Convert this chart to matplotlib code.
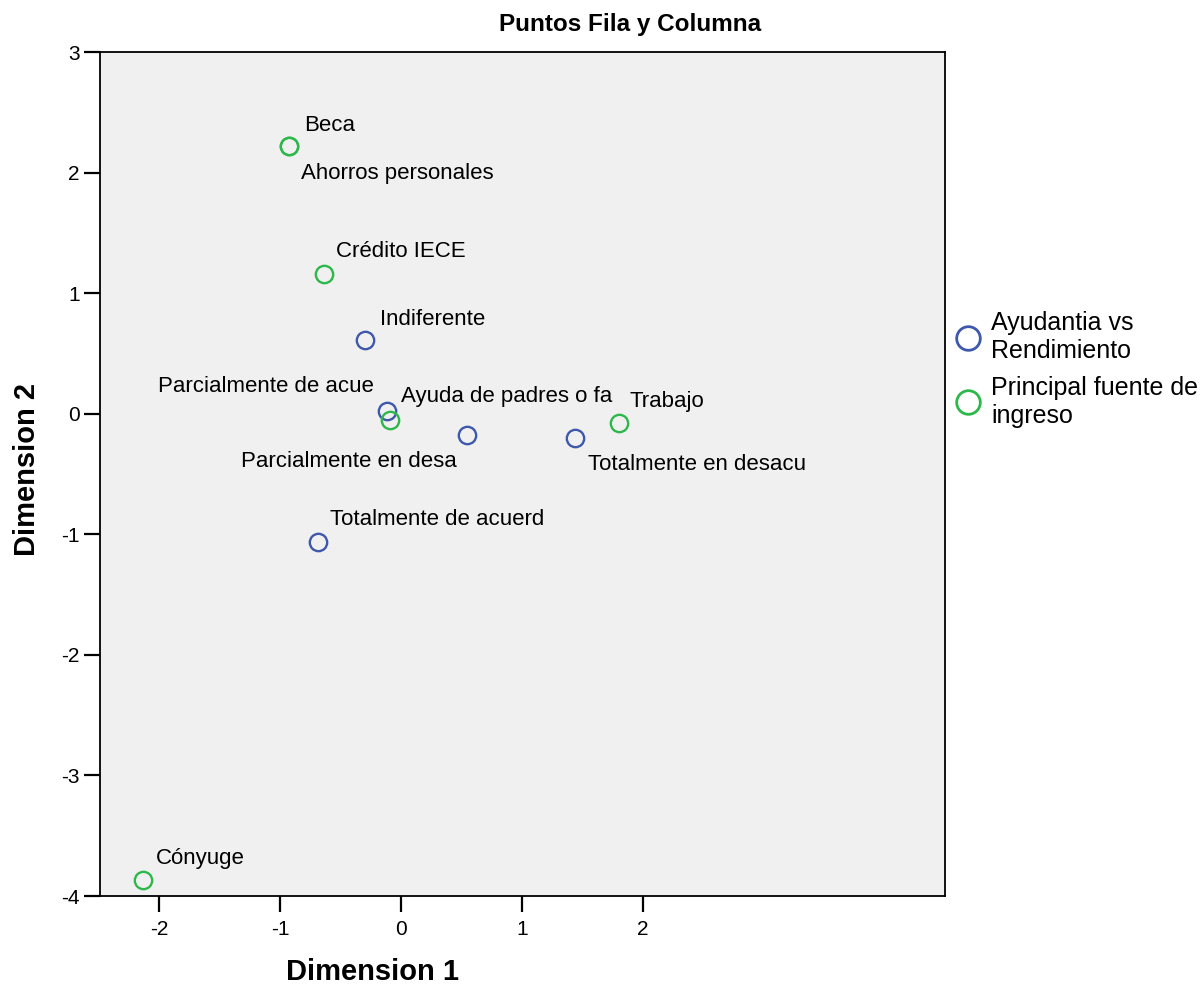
import matplotlib
matplotlib.use("Agg")
import matplotlib.pyplot as plt
from matplotlib.lines import Line2D

plt.rcParams['font.family'] = ['Liberation Sans', 'DejaVu Sans']

# Row points: Ayudantia vs Rendimiento
row_labels = ["Indiferente", "Parcialmente de acue", "Parcialmente en desa",
              "Totalmente en desacu", "Totalmente de acuerd"]
row_x = [-0.30, -0.12, 0.545, 1.44, -0.69]
row_y = [0.61, 0.02, -0.18, -0.20, -1.06]

# Column points: Principal fuente de ingreso
col_labels = ["Beca", "Ahorros personales", "Crédito IECE",
              "Ayuda de padres o fa", "Trabajo", "Cónyuge"]
col_x = [-0.93, -0.93, -0.64, -0.09, 1.80, -2.13]
col_y = [2.22, 2.22, 1.16, -0.05, -0.08, -3.87]

xticks = [-2, -1, 0, 1, 2]
yticks = [-4, -3, -2, -1, 0, 1, 2, 3]

BLUE = "#3E58AC"
GREEN = "#2EB84B"

fig = plt.figure(figsize=(12.02, 9.86), dpi=100)
ax = fig.add_axes([100/1202, 90/986, 845/1202, 844/986])
ax.set_facecolor("#F0F0F0")

ax.plot(row_x, row_y, linestyle="none", marker="o", ms=12.5, mfc="none",
        mec=BLUE, mew=1.7, zorder=3)
ax.plot(col_x, col_y, linestyle="none", marker="o", ms=12.5, mfc="none",
        mec=GREEN, mew=1.7, zorder=3)

# label offsets in points (dx, dy, ha)
row_off = [(11, 15, "left"), (-9, 18, "right"), (-7, -19, "right"),
           (9, -19, "left"), (9, 16, "left")]
col_off = [(11, 15, "left"), (9, -20, "left"), (9, 16, "left"),
           (8, 17, "left"), (8, 16, "left"), (9, 16, "left")]

for lab, x, y, (dx, dy, ha) in zip(row_labels, row_x, row_y, row_off):
    ax.annotate(lab, (x, y), xytext=(dx, dy), textcoords="offset points",
                ha=ha, va="center", fontsize=16)
for lab, x, y, (dx, dy, ha) in zip(col_labels, col_x, col_y, col_off):
    ax.annotate(lab, (x, y), xytext=(dx, dy), textcoords="offset points",
                ha=ha, va="center", fontsize=16)

ax.set_xlim(-2.488, 4.496)
ax.set_ylim(-4, 3)
ax.set_xticks(xticks)
ax.set_xticklabels([str(t) for t in xticks])
ax.set_yticks(yticks)
ax.set_yticklabels([str(t) for t in yticks])
ax.tick_params(direction="out", length=11.5, width=1.6, labelsize=15)
ax.tick_params(axis="x", pad=6)
ax.tick_params(axis="y", pad=3)
for s in ax.spines.values():
    s.set_linewidth(1.3)

ax.set_xlabel("Dimension 1", fontsize=21, fontweight="bold")
ax.xaxis.set_label_coords(0.3225, -0.074)
ax.set_ylabel("Dimension 2", fontsize=21, fontweight="bold")
ax.yaxis.set_label_coords(-0.070, 0.505)

fig.text(630/1202, 1 - 24/986, "Puntos Fila y Columna", ha="center",
         va="center", fontsize=17.5, fontweight="bold")

handles = [Line2D([], [], linestyle="none", marker="o", ms=17, mfc="none",
                  mec=BLUE, mew=2),
           Line2D([], [], linestyle="none", marker="o", ms=17, mfc="none",
                  mec=GREEN, mew=2)]
fig.legend(handles, ["Ayudantia vs\nRendimiento", "Principal fuente de\ningreso"],
           loc="upper left", bbox_to_anchor=(955/1202, 1 - 311/986),
           frameon=False, fontsize=18, handlelength=1.0, handletextpad=0.45,
           labelspacing=0.52, borderpad=0, borderaxespad=0)

fig.savefig("out.png", dpi=100)
